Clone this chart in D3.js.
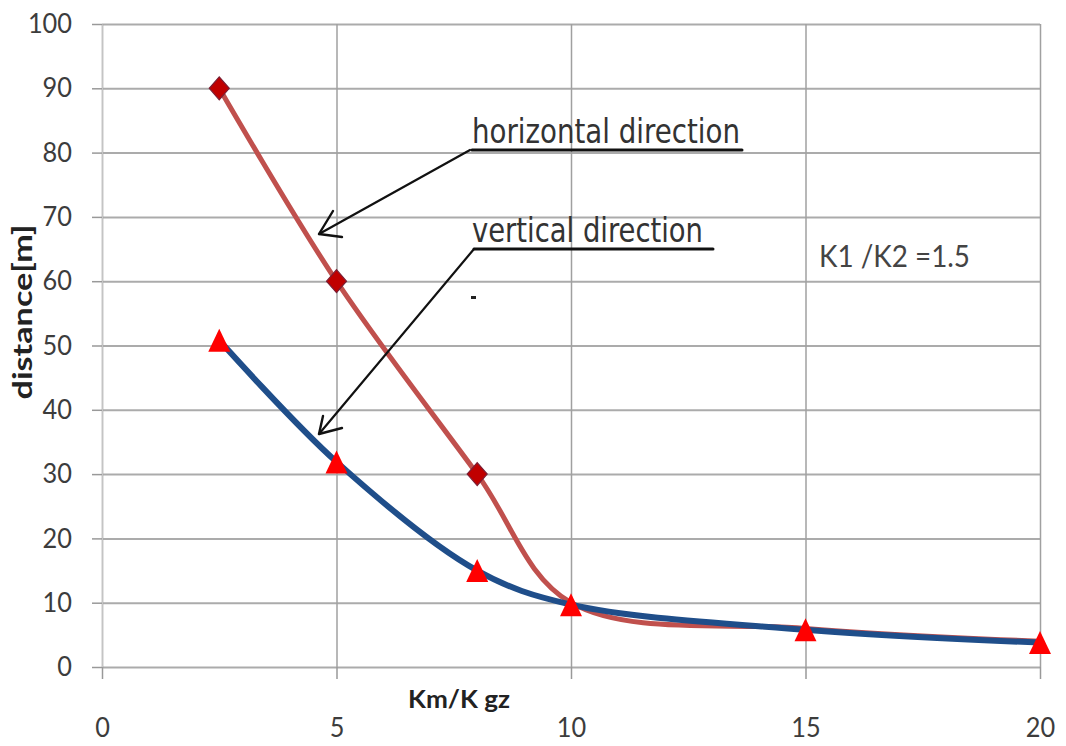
<!DOCTYPE html>
<html>
<head>
<meta charset="utf-8">
<script src="https://cdn.jsdelivr.net/npm/d3@7"></script>
<style>
  html, body { margin: 0; padding: 0; background: #ffffff; }
  svg { display: block; }
</style>
</head>
<body>
<script>
// ---- data ----
const xValues = [2.5, 5, 8, 10, 15, 20];
const horizontalDistance = [90, 60, 30, 10, 6, 4];
const verticalDistance = [50.8, 31.9, 15, 9.7, 5.8, 3.8];
const xTicks = [0, 5, 10, 15, 20];
const yTicks = [0, 10, 20, 30, 40, 50, 60, 70, 80, 90, 100];
const xTitle = "Km/K gz";
const yTitle = "distance[m]";
const labelHorizontal = "horizontal direction";
const labelVertical = "vertical direction";
const ratioNote = "K1 /K2 =1.5";

(function () {
// ---- layout ----
const W = 1066, H = 746;
const pLeft = 102, pRight = 1040, pTop = 24, pBottom = 667;

const svg = d3.select("body").append("svg").attr("width", W).attr("height", H);

const x = d3.scaleLinear().domain([0, 20]).range([pLeft, pRight]);
const y = d3.scaleLinear().domain([0, 100]).range([pBottom, pTop]);

const tickFont = "Lato, 'Open Sans', sans-serif";
const textColor = "#3c3c3c";

// horizontal gridlines
svg.append("g")
  .attr("transform", `translate(${pLeft},0)`)
  .call(d3.axisLeft(y).tickValues(yTicks).tickSize(-(pRight - pLeft)).tickFormat(""))
  .call(g => g.select(".domain").remove())
  .call(g => g.selectAll("line").attr("stroke", "#ababab").attr("stroke-width", 2));

// vertical gridlines
svg.append("g")
  .attr("transform", `translate(0,${pBottom})`)
  .call(d3.axisBottom(x).tickValues(xTicks).tickSize(-(pBottom - pTop)).tickFormat(""))
  .call(g => g.select(".domain").remove())
  .call(g => g.selectAll("line").attr("stroke", "#a0a0a0").attr("stroke-width", 1.5));

// y axis (ticks + labels)
const yAxis = svg.append("g")
  .attr("transform", `translate(${pLeft},0)`)
  .call(d3.axisLeft(y).tickValues(yTicks).tickSizeInner(10).tickSizeOuter(0).tickPadding(20));
yAxis.select(".domain").attr("stroke", "#c4c4c4").attr("stroke-width", 1.2);
yAxis.selectAll("line").attr("stroke", "#999").attr("stroke-width", 1.5);
yAxis.selectAll("text")
  .attr("font-family", tickFont).attr("font-size", 27).attr("fill", textColor)
  .each(function(d) {
    const n = String(d).length;
    d3.select(this).attr("textLength", n * 14.7).attr("lengthAdjust", "spacingAndGlyphs");
  });

// x axis (ticks + labels)
const xAxis = svg.append("g")
  .attr("transform", `translate(0,${pBottom})`)
  .call(d3.axisBottom(x).tickValues(xTicks).tickSizeInner(12).tickSizeOuter(0).tickPadding(39));
xAxis.select(".domain").remove();
xAxis.selectAll("line").attr("stroke", "#999").attr("stroke-width", 1.5);
xAxis.selectAll("text")
  .attr("font-family", tickFont).attr("font-size", 27).attr("fill", textColor)
  .each(function(d) {
    const n = String(d).length;
    d3.select(this).attr("textLength", n * 14.7).attr("lengthAdjust", "spacingAndGlyphs");
  });

// axis titles
svg.append("text")
  .attr("x", 408).attr("y", 708)
  .attr("font-family", tickFont).attr("font-size", 25).attr("font-weight", "bold")
  .attr("fill", "#222")
  .attr("textLength", 102).attr("lengthAdjust", "spacingAndGlyphs")
  .text(xTitle);

svg.append("text")
  .attr("transform", "translate(32,312) rotate(-90)")
  .attr("text-anchor", "middle")
  .attr("font-family", tickFont).attr("font-size", 26).attr("font-weight", "bold")
  .attr("fill", "#222")
  .attr("textLength", 175).attr("lengthAdjust", "spacingAndGlyphs")
  .text(yTitle);

// ---- series ----
const curve = d3.curveCatmullRom.alpha(0.5);
const hData = xValues.map((v, i) => [v, horizontalDistance[i], verticalDistance[i]]);
const vData = xValues.map((v, i) => [v, verticalDistance[i]]);
const line = d3.line().x(d => x(d[0])).y(d => y(d[1])).curve(curve);

svg.append("path").datum(hData)
  .attr("d", line).attr("fill", "none")
  .attr("stroke", "#c0504d").attr("stroke-width", 5).attr("stroke-linejoin", "round");

// diamonds where the horizontal series is not hidden under the vertical-series markers
svg.selectAll(".diamond").data(hData.filter(d => Math.abs(d[1] - d[2]) > 2)).enter().append("path")
  .attr("class", "diamond")
  .attr("transform", d => `translate(${x(d[0])},${y(d[1])})`)
  .attr("d", "M0,-11.5L10,0L0,11.5L-10,0Z")
  .attr("fill", "#c00000").attr("stroke", "#7a1f35").attr("stroke-width", 1.2);

svg.append("path").datum(vData)
  .attr("d", line).attr("fill", "none")
  .attr("stroke", "#1f4e8a").attr("stroke-width", 6).attr("stroke-linejoin", "round");

svg.selectAll(".tri").data(vData).enter().append("path")
  .attr("class", "tri")
  .attr("transform", d => `translate(${x(d[0])},${y(d[1])})`)
  .attr("d", "M0,-11.5L11,11.5L-11,11.5Z")
  .attr("fill", "#ff0000");

// ---- annotations ----
const annFont = "'Liberation Sans Narrow', 'DejaVu Sans Condensed', 'Liberation Sans', sans-serif";

svg.append("text")
  .attr("x", 472).attr("y", 143)
  .attr("font-family", annFont).attr("font-size", 34).attr("fill", "#333")
  .attr("textLength", 268).attr("lengthAdjust", "spacingAndGlyphs")
  .text(labelHorizontal);

svg.append("text")
  .attr("x", 472).attr("y", 242)
  .attr("font-family", annFont).attr("font-size", 34).attr("fill", "#333")
  .attr("textLength", 231).attr("lengthAdjust", "spacingAndGlyphs")
  .text(labelVertical);

const ann = svg.append("g").attr("fill", "none").attr("stroke", "#111")
  .attr("stroke-linecap", "round").attr("stroke-linejoin", "round");
// horizontal direction pointer
ann.append("line").attr("x1", 472).attr("y1", 150).attr("x2", 742).attr("y2", 150).attr("stroke-width", 3);
ann.append("line").attr("x1", 470).attr("y1", 150).attr("x2", 319).attr("y2", 234).attr("stroke-width", 2.2);
ann.append("path").attr("d", "M333,211L319,234L342,237").attr("stroke-width", 2.4);
// vertical direction pointer
ann.append("line").attr("x1", 474).attr("y1", 249).attr("x2", 713).attr("y2", 249).attr("stroke-width", 3);
ann.append("line").attr("x1", 474).attr("y1", 249).attr("x2", 319).attr("y2", 434).attr("stroke-width", 2.2);
ann.append("path").attr("d", "M323,416L319,434L342,428").attr("stroke-width", 2.4);
// small stray mark
svg.append("rect").attr("x", 471).attr("y", 296).attr("width", 5).attr("height", 3).attr("fill", "#222");

svg.append("text")
  .attr("x", 819).attr("y", 267)
  .attr("font-family", tickFont).attr("font-size", 31).attr("fill", "#444")
  .attr("textLength", 151).attr("lengthAdjust", "spacingAndGlyphs")
  .text(ratioNote);
})();
</script>
</body>
</html>
